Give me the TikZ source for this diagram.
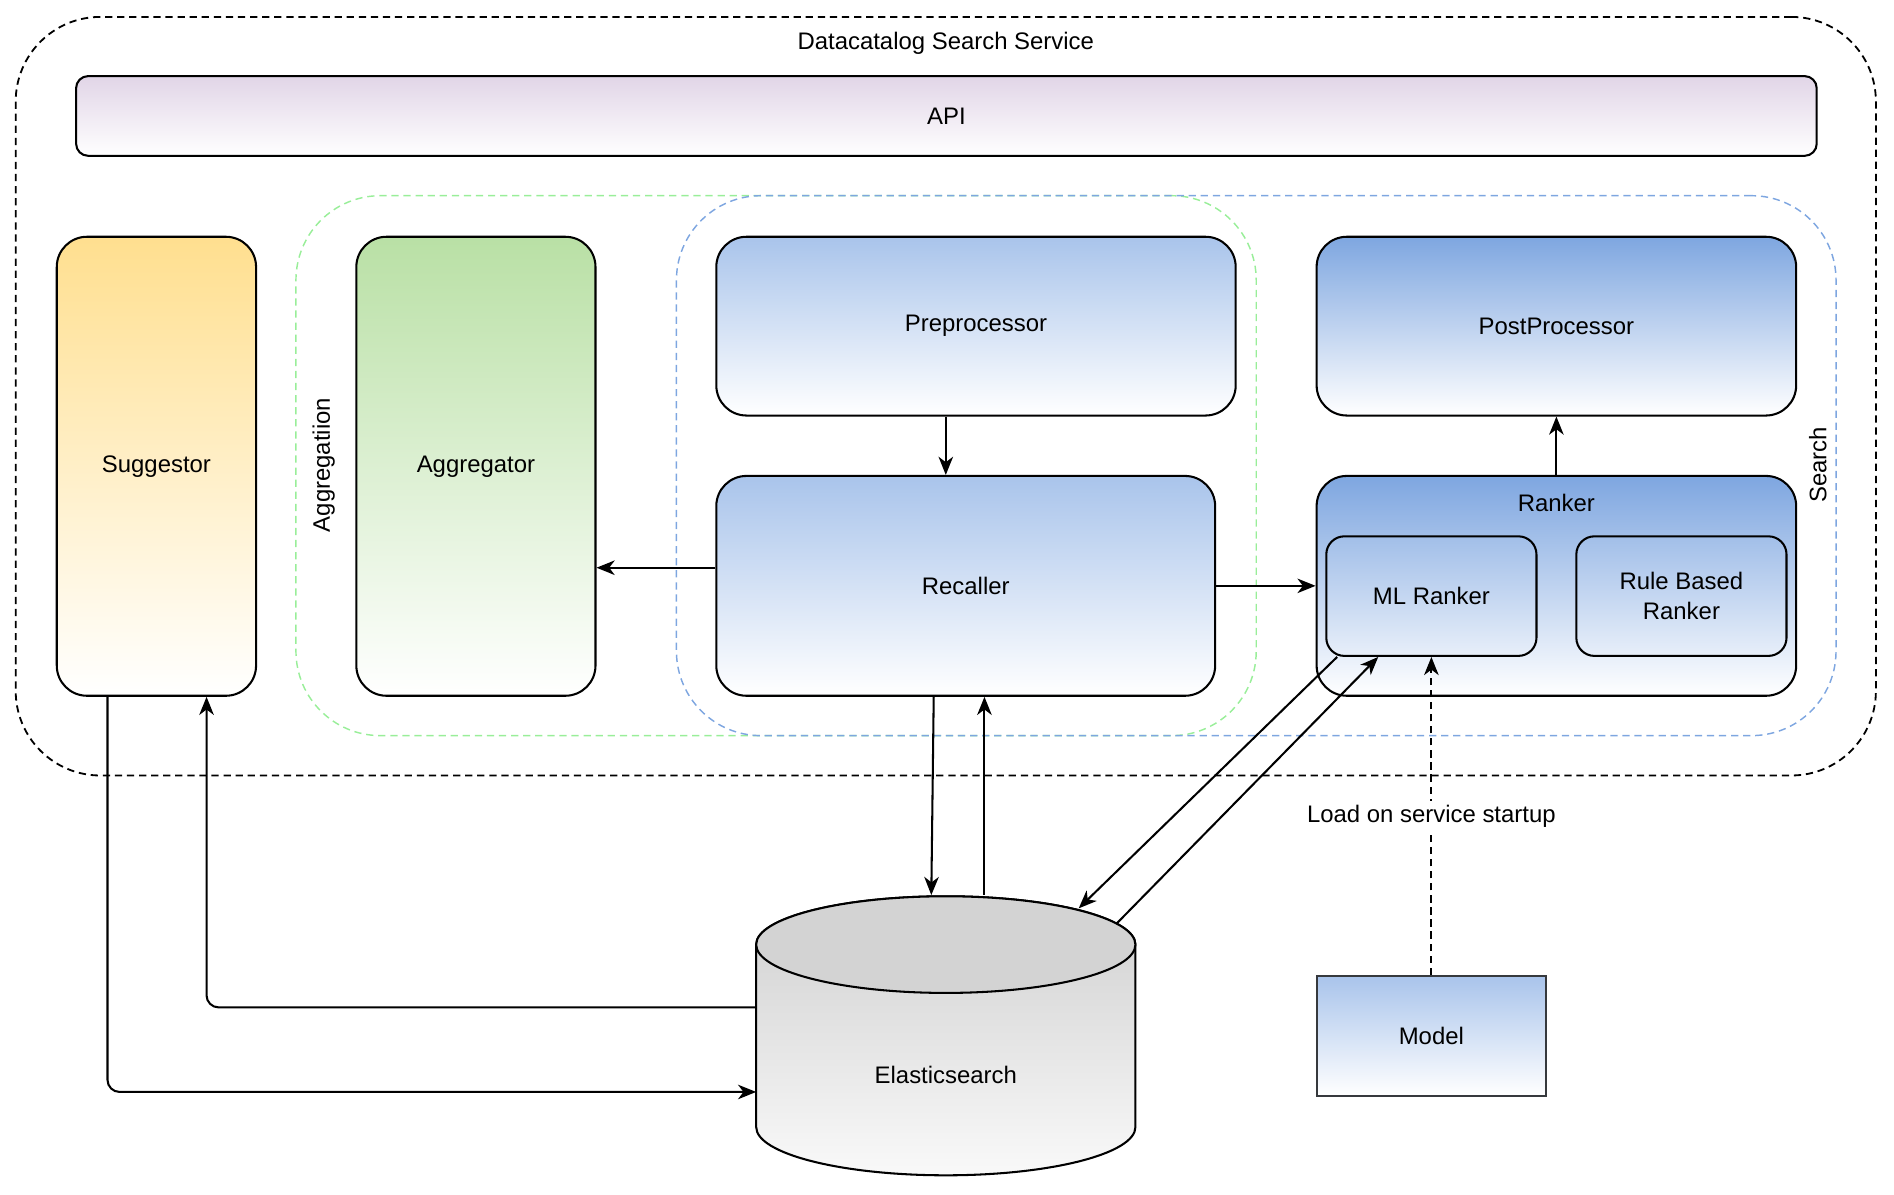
\documentclass[tikz,border=0pt]{standalone}
\usepackage{fontspec}
\setmainfont{Liberation Sans}
\usetikzlibrary{arrows.meta,calc}
\definecolor{apitop}{HTML}{E1D5E7}
\definecolor{sugtop}{HTML}{FFDF8F}
\definecolor{aggtop}{HTML}{B9E0A5}
\definecolor{lblue}{HTML}{A9C4EB}
\definecolor{dblue}{HTML}{7EA6E0}
\definecolor{grpgreen}{HTML}{99EE99}
\definecolor{grpblue}{HTML}{7EA6E0}
\definecolor{estop}{HTML}{CFCFCF}
\definecolor{esbot}{HTML}{F9F9F9}
\definecolor{eslid}{HTML}{D3D3D3}
\definecolor{modelline}{HTML}{36393D}
\begin{document}
\begin{tikzpicture}[x=1pt,y=-1pt,
  lbl/.style={font=\fontsize{19.8pt}{25pt}\selectfont, inner sep=2pt, align=center},
  box/.style={draw=black, line width=1.7pt, rounded corners=25pt, inner sep=0pt,
    font=\fontsize{19.8pt}{25pt}\selectfont, align=center, bottom color=white},
  group/.style={line width=1.2pt, dash pattern=on 6pt off 4pt, rounded corners=70pt, inner sep=0pt},
  conn/.style={line width=1.7pt, -{Stealth[length=15pt,width=12pt,inset=4.5pt]}},
]
\useasboundingbox (0,0) rectangle (1568,988.5);

% containers
\node[group, draw=black, line width=1.5pt, minimum width=1540pt, minimum height=628pt] (service) at (783,328) {};
\node[lbl] (servicelbl) at (783,36) {Datacatalog Search Service};
\node[group, draw=grpgreen, minimum width=795pt, minimum height=447pt] (agggrp) at (642.5,385.5) {};
\node[group, draw=grpblue, minimum width=960pt, minimum height=447pt] (searchgrp) at (1040,385.5) {};
\node[lbl, rotate=90] (agglbl) at (268,385) {Aggregatiion};
\node[lbl, rotate=90] (searchlbl) at (1505,385) {Search};

% API
\node[box, rounded corners=10pt, top color=apitop, minimum width=1441pt, minimum height=66pt] (api) at (783.5,96) {API};

% boxes
\node[box, top color=sugtop, minimum width=165pt, minimum height=380pt] (sug) at (129.5,386) {Suggestor};
\node[box, top color=aggtop, minimum width=198pt, minimum height=380pt] (agg) at (394,386) {Aggregator};
\node[box, top color=lblue, minimum width=430pt, minimum height=148pt] (pre) at (808,270) {Preprocessor};
\node[box, top color=lblue, minimum width=413pt, minimum height=182pt] (rec) at (799.5,485) {Recaller};
\node[box, top color=dblue, minimum width=397pt, minimum height=148pt] (post) at (1288.5,270) {PostProcessor};
\node[box, top color=dblue, minimum width=397pt, minimum height=182pt] (rank) at (1288.5,485) {};
\node[lbl] (ranklbl) at (1288.5,416) {Ranker};
\node[draw=black, line width=1.7pt, rounded corners=15pt, inner sep=0pt, lbl, minimum width=174pt, minimum height=99pt] (ml) at (1185,493.5) {ML Ranker};
\node[draw=black, line width=1.7pt, rounded corners=15pt, inner sep=0pt, lbl, minimum width=174pt, minimum height=99pt] (rule) at (1392,493.5) {Rule Based\\Ranker};
\node[draw=modelline, line width=1.7pt, inner sep=0pt, lbl, top color=lblue, bottom color=white, minimum width=190pt, minimum height=99pt] (model) at (1185,857.5) {Model};

% Elasticsearch cylinder
\path[top color=estop, bottom color=esbot, draw=black, line width=1.7pt]
  (626,782) -- (626,933) arc[start angle=180,end angle=360,x radius=157pt,y radius=40pt]
  -- (940,782) arc[start angle=0,end angle=180,x radius=157pt,y radius=40pt] -- cycle;
\draw[fill=eslid, line width=1.7pt] (783,782) ellipse[x radius=157pt, y radius=40pt];
\node[minimum width=314pt, minimum height=231pt, inner sep=0pt] (es) at (783,857.5) {};
\node[lbl] (eslbl) at (783,890) {Elasticsearch};
\coordinate (esin) at (771,741);
\coordinate (esout) at (815,741);
\coordinate (esdiagin) at (893,752);
\coordinate (esdiagout) at (924,765);
\coordinate (esleftout) at (626,834);
\coordinate (esleftin) at (626,904);

% connectors
\draw[conn] (pre.south -| 783,0) -- (rec.north -| 783,0);
\draw[conn] (rec.west |- 0,470) -- (agg.east |- 0,470);
\draw[conn] (rec.east |- 0,485) -- (rank.west |- 0,485);
\draw[conn] (rank.north) -- (post.south);
\draw[conn] (rec.south -| 773,0) -- (esin);
\draw[conn] (esout) -- (rec.south -| 815,0);
\draw[conn] (ml.south -| 1107,0) -- (esdiagin);
\draw[conn] (esdiagout) -- (ml.south -| 1141,0);
\draw[conn, dash pattern=on 6pt off 4pt] (model.north) -- node[lbl, fill=white, inner sep=3pt] (loadlbl) {Load on service startup} (ml.south);
\draw[conn, rounded corners=10pt] (esleftout) -- (171,834) -- (sug.south -| 171,0);
\draw[conn, rounded corners=10pt] (sug.south -| 89,0) -- (89,904) -- (esleftin);
\end{tikzpicture}
\end{document}
